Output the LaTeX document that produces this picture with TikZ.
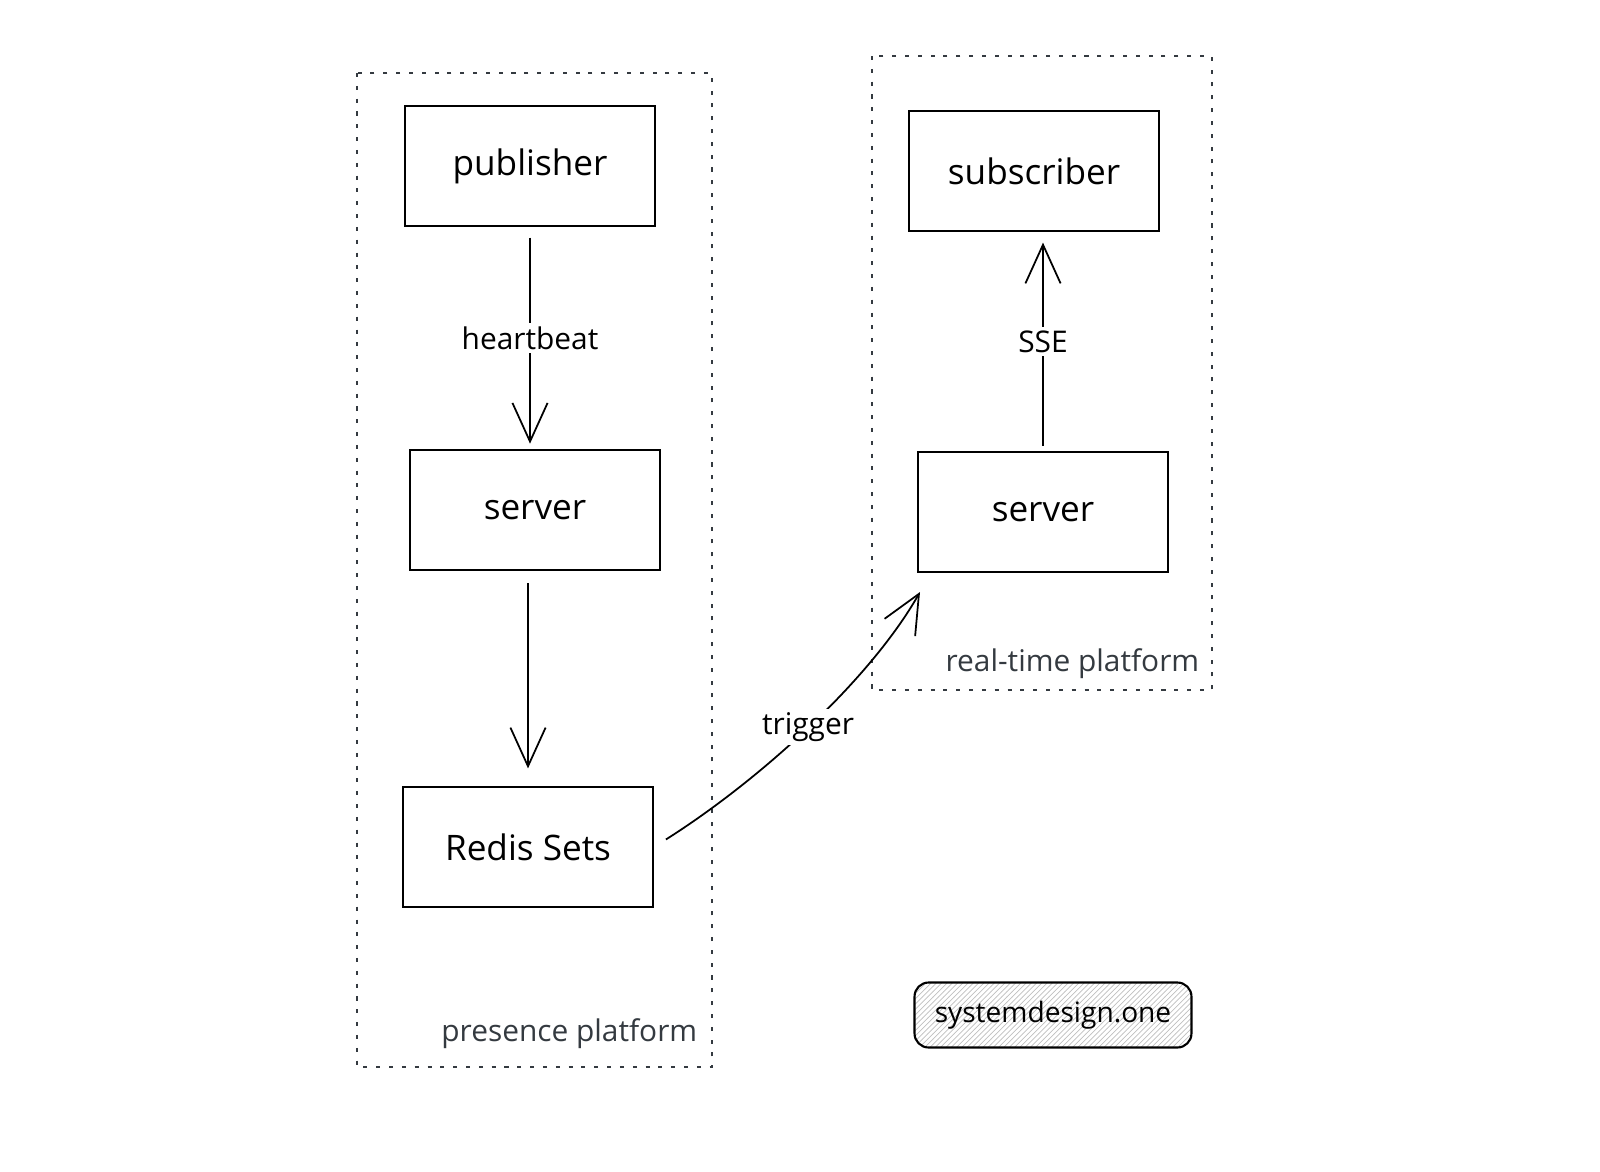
\documentclass[tikz,border=0pt]{standalone}
\usepackage{fontspec}
\setmainfont{Open Sans}
\usetikzlibrary{arrows.meta,patterns}
\definecolor{slate}{RGB}{52,58,64}

\begin{document}
\begin{tikzpicture}[x=0.02cm, y=-0.02cm, >={Straight Barb[length=22pt,width=20pt]}, line width=1pt,
	box/.style={draw, line width=1.2pt, minimum width=5cm, minimum height=2.4cm, font=\fontsize{20}{24}\selectfont},
	flow/.style={->, line width=1pt},
	lbl/.style={fill=white, inner sep=2pt, font=\fontsize{17}{20}\selectfont},
	frame/.style={draw=slate, line width=1.2pt, dash pattern=on 2.3pt off 5pt},
	tag/.style={text=slate, font=\fontsize{17}{20}\selectfont}]
	% 0. page size
	\useasboundingbox (0,0) rectangle (1600,1171);
	
	% 1. platform frames
	\draw[frame] (357,73) rectangle (712,1067);
	\draw[frame] (872,56) rectangle (1212,690);
	\node[tag, anchor=east] (presence) at (704,1034) {presence platform};
	\node[tag, anchor=east] (realtime) at (1206,664) {real-time platform};
	
	% 2. presence platform column
	\node[box] (pub) at (530,166) {publisher};
	\node[box] (lsrv) at (535,510) {server};
	\node[box] (redis) at (528,847) {Redis Sets};
	
	% 3. real-time platform column
	\node[box] (sub) at (1034,171) {subscriber};
	\node[box] (rsrv) at (1043,512) {server};
	
	% 4. connectors (kept vertical)
	\draw[flow, shorten <=6pt, shorten >=3pt] (pub.south) -- node[lbl] {heartbeat} (pub.south |- lsrv.north);
	\draw[flow, shorten <=7pt, shorten >=10pt] (redis.north |- lsrv.south) -- (redis.north);
	\draw[flow, shorten <=3pt, shorten >=6pt] (rsrv.north) -- node[lbl] {SSE} (rsrv.north |- sub.south);
	
	\coordinate (trigtip) at (920,592);
	\draw[flow, shorten <=8pt] (redis.east) .. controls (760,780) and (870,680) .. (trigtip)
		node[lbl, pos=0.5] {trigger};
	
	% 5. watermark
	\node[draw, line width=1.2pt, rounded corners=8pt, pattern=north east lines, pattern color=black!25,
		minimum width=5.54cm, minimum height=1.3cm, font=\fontsize{16}{19}\selectfont] (brand) at (1053,1015) {systemdesign.one};
\end{tikzpicture}
\end{document}
